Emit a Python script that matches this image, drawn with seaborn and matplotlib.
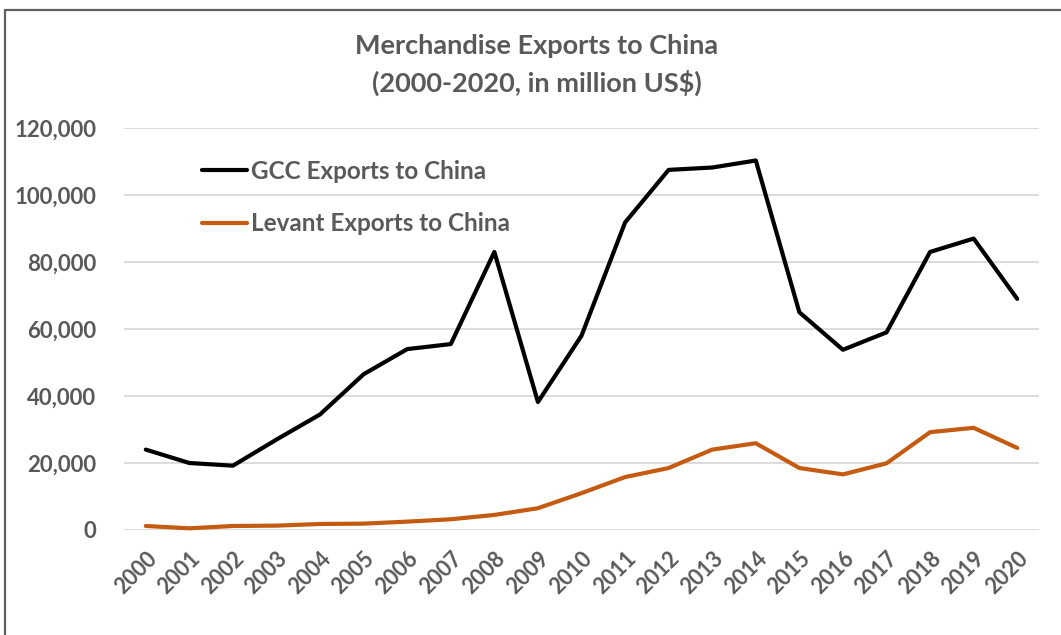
import matplotlib
matplotlib.use("Agg")
import matplotlib.pyplot as plt
import seaborn as sns
import pandas as pd
from matplotlib.lines import Line2D
from matplotlib.ticker import FuncFormatter

years = [str(y) for y in range(2000, 2021)]
gcc = [24000, 20000, 19200, 27000, 34500, 46500, 54000, 55500, 83000, 38200,
       58000, 91800, 107500, 108200, 110300, 65000, 53800, 59000, 83000, 87000, 69000]
levant = [1200, 500, 1200, 1300, 1800, 1900, 2500, 3200, 4500, 6500,
          11000, 15800, 18500, 24000, 25900, 18500, 16600, 19900, 29200, 30500, 24500]
series_names = ["GCC Exports to China", "Levant Exports to China"]
colors = ["#000000", "#C55A11"]
title = "Merchandise Exports to China\n(2000-2020, in million US$)"

df = pd.DataFrame({
    "Year": years * 2,
    "Value": gcc + levant,
    "Series": [series_names[0]] * len(years) + [series_names[1]] * len(years),
})

sns.set_theme(style="white")
plt.rcParams["font.family"] = ["Lato", "DejaVu Sans"]
GRAY = "#595959"

fig = plt.figure(figsize=(10.61, 6.35), dpi=100)
ax = fig.add_axes([124 / 1061, 1 - 530 / 635, (1039 - 124) / 1061, (530 - 128) / 635])

sns.lineplot(data=df, x="Year", y="Value", hue="Series", palette=colors,
             linewidth=3, ax=ax, sort=False)

ax.set_xlim(-0.5, len(years) - 0.5)
ax.set_ylim(0, 120000)
ax.set_yticks(range(0, 120001, 20000))
ax.yaxis.set_major_formatter(FuncFormatter(lambda v, p: f"{int(v):,}"))
ax.grid(axis="y", color="#D9D9D9", linewidth=1.3)
ax.grid(axis="x", visible=False)
ax.set_axisbelow(True)
for s in ax.spines.values():
    s.set_visible(False)
ax.set_xlabel("")
ax.set_ylabel("")
ax.tick_params(axis="y", length=0, pad=20, labelsize=16, labelcolor=GRAY)
ax.tick_params(axis="x", length=0, pad=13, labelsize=15.5, labelcolor=GRAY)
for lbl in ax.get_yticklabels():
    lbl.set_fontweight("bold")
for lbl in ax.get_xticklabels():
    lbl.set_fontweight("bold")
    lbl.set_rotation(45)
    lbl.set_ha("right")
    lbl.set_rotation_mode("anchor")
for ln in ax.get_lines():
    ln.set_clip_on(False)

handles, labels = ax.get_legend_handles_labels()
ax.get_legend().remove()
leg = fig.legend(handles, labels, loc="upper left",
                 bbox_to_anchor=(202 / 1061, 1 - 160 / 635),
                 frameon=False, borderpad=0, borderaxespad=0,
                 handlelength=1.85, handletextpad=0.15, labelspacing=1.2,
                 prop={"size": 17.5, "weight": "bold"})
for t in leg.get_texts():
    t.set_color(GRAY)

fig.text(537 / 1061, 1 - 65 / 635, title, ha="center", va="center",
         fontsize=19.5, fontweight="bold", color=GRAY, linespacing=1.5)

# outer chart border (partially visible)
fig.add_artist(Line2D([5 / 1061, 5 / 1061], [0, 1 - 10 / 635], color="#606060",
                      linewidth=1.6, transform=fig.transFigure))
fig.add_artist(Line2D([5 / 1061, 1], [1 - 10 / 635, 1 - 10 / 635], color="#606060",
                      linewidth=1.6, transform=fig.transFigure))

fig.savefig("out.png", dpi=100)
